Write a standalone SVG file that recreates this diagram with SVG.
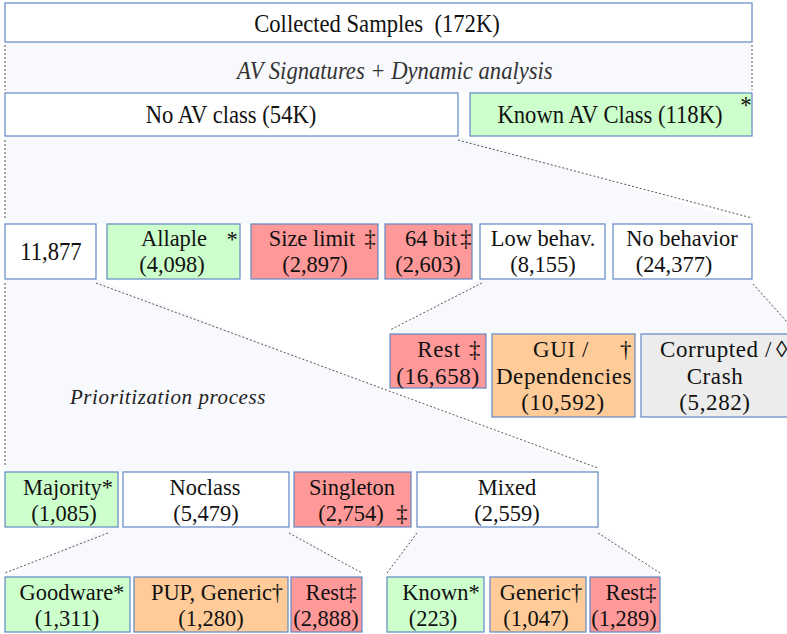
<svg xmlns="http://www.w3.org/2000/svg" width="787" height="634" viewBox="0 0 787 634">
<style>
.bx{stroke:#6288c4;stroke-width:1.2}
.w{fill:#ffffff}.g{fill:#ccffcc}.r{fill:#ff9999}.o{fill:#ffcc99}.gr{fill:#ececec}
.t{font-size:23.4px;fill:#111;text-anchor:middle;transform-box:fill-box;transform-origin:center;transform:scaleX(0.96)}
.tb{font-size:26px;fill:#111;text-anchor:middle;transform-box:fill-box;transform-origin:center;transform:scaleX(0.87)}
.t2{font-size:23px;fill:#111;text-anchor:middle;letter-spacing:0.6px}
.it{font-size:26px;font-style:italic;fill:#333;text-anchor:middle;transform-box:fill-box;transform-origin:center;transform:scaleX(0.87)}
.it2{font-size:21px;font-style:italic;fill:#222;text-anchor:middle;letter-spacing:0.6px}
.zone{fill:#f8f9fd;stroke:none}
.dot{stroke:#555;stroke-width:1;stroke-dasharray:2,2;fill:none}
</style>
<rect width="787" height="634" fill="#ffffff"/>
<g id="zones">
<rect class="zone" x="5" y="42" width="747" height="51"/>
<polygon class="zone" points="5,136 458,136 752,224 5,224"/>
<polygon class="zone" points="480,279 752,279 787,320 787,334 390,334"/>
<polygon class="zone" points="5,279 96,279 598,472 5,472"/>
<polygon class="zone" points="108,527 289,527 362,577 5,577"/>
<polygon class="zone" points="417,527 598,527 660,577 387,577"/>
</g>
<g id="connectors">
<line class="dot" x1="5" y1="45" x2="5" y2="90"/>
<line class="dot" x1="752" y1="45" x2="752" y2="90"/>
<line class="dot" x1="5" y1="140" x2="5" y2="220"/>
<line class="dot" x1="458" y1="140" x2="752" y2="218"/>
<line class="dot" x1="482" y1="283" x2="390" y2="330"/>
<line class="dot" x1="753" y1="284" x2="787" y2="322"/>
<line class="dot" x1="5" y1="283" x2="5" y2="466"/>
<line class="dot" x1="96" y1="283" x2="598" y2="468"/>
<line class="dot" x1="108" y1="533" x2="5" y2="573"/>
<line class="dot" x1="289" y1="533" x2="362" y2="573"/>
<line class="dot" x1="417" y1="533" x2="387" y2="573"/>
<line class="dot" x1="598" y1="533" x2="660" y2="573"/>
</g>
<g font-family="Liberation Serif, DejaVu Serif, serif">
<text class="it" x="395" y="79">AV Signatures + Dynamic analysis</text>
<text class="it2" x="168" y="404">Prioritization process</text>
<g id="collected"><rect class="bx w" x="5" y="3" width="747" height="39"/><text class="tb" x="377" y="32">Collected Samples&#160; (172K)</text></g>
<g id="noav"><rect class="bx w" x="5" y="93" width="453" height="43"/><text class="tb" x="231" y="123">No AV class (54K)</text></g>
<g id="knownav"><rect class="bx g" x="470" y="93" width="282" height="43"/><text class="tb" x="610" y="123">Known AV Class (118K)</text><text class="tb" x="746" y="114">*</text></g>
<g id="n11877"><rect class="bx w" x="5" y="224" width="91" height="55"/><text class="tb" x="51" y="260">11,877</text></g>
<g id="allaple"><rect class="bx g" x="107" y="224" width="133" height="55"/><text class="t" x="174" y="246">Allaple</text><text class="t" x="232" y="247">*</text><text class="t" x="172" y="272">(4,098)</text></g>
<g id="sizelimit"><rect class="bx r" x="251" y="224" width="127" height="55"/><text class="t" x="312" y="246">Size limit</text><text class="t" x="370" y="246">‡</text><text class="t" x="315" y="272">(2,897)</text></g>
<g id="bit64"><rect class="bx r" x="385" y="224" width="87" height="55"/><text class="t" x="431" y="246">64 bit</text><text class="t" x="466" y="246">‡</text><text class="t" x="428" y="272">(2,603)</text></g>
<g id="lowbehav"><rect class="bx w" x="480" y="224" width="125" height="55"/><text class="t" x="543" y="246">Low behav.</text><text class="t" x="543" y="272">(8,155)</text></g>
<g id="nobehavior"><rect class="bx w" x="613" y="224" width="139" height="55"/><text class="t" x="682" y="246">No behavior</text><text class="t" x="674" y="272">(24,377)</text></g>
<g id="rest16658"><rect class="bx r" x="390" y="334" width="96" height="54"/><text class="t2" x="439" y="357">Rest</text><text class="t2" x="475" y="357">‡</text><text class="t2" x="438" y="384">(16,658)</text></g>
<g id="gui"><rect class="bx o" x="492" y="334" width="143" height="83"/><text class="t2" x="561" y="357">GUI /</text><text class="t2" x="626" y="357">†</text><text class="t2" x="564" y="384">Dependencies</text><text class="t2" x="563" y="410">(10,592)</text></g>
<g id="corrupted"><rect class="bx gr" x="641" y="334" width="150" height="83"/><text class="t2" x="716" y="357">Corrupted /</text><text class="t2" x="782" y="357">◊</text><text class="t2" x="715" y="384">Crash</text><text class="t2" x="715" y="410">(5,282)</text></g>
<g id="majority"><rect class="bx g" x="5" y="472" width="113" height="55"/><text class="t" x="68" y="495">Majority*</text><text class="t" x="64" y="521">(1,085)</text></g>
<g id="noclass"><rect class="bx w" x="123" y="472" width="166" height="55"/><text class="t" x="205" y="495">Noclass</text><text class="t" x="206" y="521">(5,479)</text></g>
<g id="singleton"><rect class="bx r" x="294" y="472" width="117" height="55"/><text class="t" x="352" y="495">Singleton</text><text class="t" x="351" y="521">(2,754)</text><text class="t" x="402" y="521">‡</text></g>
<g id="mixed"><rect class="bx w" x="417" y="472" width="181" height="55"/><text class="t" x="507" y="495">Mixed</text><text class="t" x="507" y="521">(2,559)</text></g>
<g id="goodware"><rect class="bx g" x="5" y="577" width="125" height="55"/><text class="t" x="72" y="600">Goodware*</text><text class="t" x="67" y="626">(1,311)</text></g>
<g id="pup"><rect class="bx o" x="134" y="577" width="154" height="55"/><text class="t" x="217" y="600">PUP, Generic†</text><text class="t" x="211" y="626">(1,280)</text></g>
<g id="rest2888"><rect class="bx r" x="291" y="577" width="71" height="55"/><text class="t" x="331" y="600">Rest‡</text><text class="t" x="326" y="626">(2,888)</text></g>
<g id="known223"><rect class="bx g" x="387" y="577" width="97" height="55"/><text class="t" x="441" y="600">Known*</text><text class="t" x="433" y="626">(223)</text></g>
<g id="generic"><rect class="bx o" x="490" y="577" width="96" height="55"/><text class="t" x="541" y="600">Generic†</text><text class="t" x="536" y="626">(1,047)</text></g>
<g id="rest1289"><rect class="bx r" x="590" y="577" width="70" height="55"/><text class="t" x="631" y="600">Rest‡</text><text class="t" x="624" y="626">(1,289)</text></g>
</g>
</svg>
